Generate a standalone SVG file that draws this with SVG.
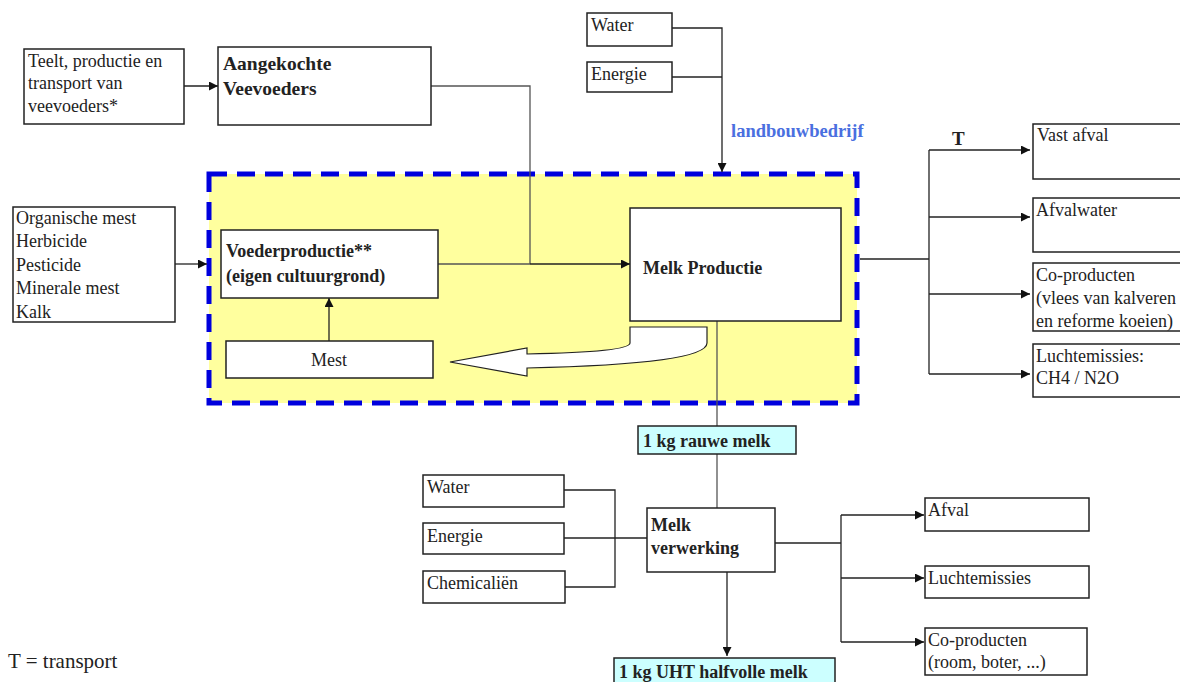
<svg xmlns="http://www.w3.org/2000/svg" width="1180" height="682" viewBox="0 0 1180 682">
  <defs>
    <marker id="arr" viewBox="0 0 10 10" refX="10" refY="5" markerWidth="9" markerHeight="9" markerUnits="userSpaceOnUse" orient="auto">
      <path d="M0,0 L10,5 L0,10 z" fill="#111"/>
    </marker>
    <style>
      .box { fill: #fff; stroke: #222; stroke-width: 1.5; }
      .hl { fill: #ccffff; stroke: #222; stroke-width: 1.5; }
      .t { font-size: 18px; fill: #222; }
      .b { font-size: 18px; font-weight: bold; fill: #222; }
      .bl { font-size: 19.5px; }
      .ln { fill: none; stroke: #222; stroke-width: 1.3; }
      .gl { fill: none; stroke: #555; stroke-width: 1.3; }
    </style>
  </defs>
  <rect width="1180" height="682" fill="#fff"/>

  <g font-family="Liberation Serif, Times New Roman, serif">
  <!-- farm boundary -->
  <g id="farm">
    <rect x="209" y="174" width="648" height="229" fill="#ffff9e" stroke="#0000dd" stroke-width="5" stroke-dasharray="18 10"/>
    <text x="731" y="137" font-size="18.5" font-weight="bold" fill="#4a6fe0">landbouwbedrijf</text>
  </g>

  <!-- connectors -->
  <g id="connectors">
    <line class="ln" x1="184" y1="86" x2="218" y2="86" marker-end="url(#arr)"/>
    <polyline class="gl" points="431,86 530,86 530,264"/>
    <polyline class="ln" points="672,28 722,28 722,172" marker-end="url(#arr)"/>
    <line class="ln" x1="672" y1="77" x2="722" y2="77"/>
    <line class="ln" x1="175" y1="264" x2="207" y2="264" marker-end="url(#arr)"/>
    <line class="gl" x1="438" y1="264" x2="530" y2="264"/>
    <line class="ln" x1="530" y1="264" x2="630" y2="264" marker-end="url(#arr)"/>
    <line class="ln" x1="329" y1="341" x2="329" y2="298" marker-end="url(#arr)"/>
    <line class="gl" x1="717" y1="321" x2="717" y2="426"/>
    <line class="gl" x1="717" y1="454" x2="717" y2="508"/>

    <!-- farm outputs -->
    <polyline class="ln" points="860,259 929,259"/>
    <line class="ln" x1="929" y1="150" x2="929" y2="374"/>
    <line class="ln" x1="929" y1="150" x2="1030" y2="150" marker-end="url(#arr)"/>
    <line class="ln" x1="929" y1="217" x2="1030" y2="217" marker-end="url(#arr)"/>
    <line class="ln" x1="929" y1="294" x2="1030" y2="294" marker-end="url(#arr)"/>
    <line class="ln" x1="929" y1="374" x2="1030" y2="374" marker-end="url(#arr)"/>
    <text x="952" y="145" class="b" style="font-size:19px">T</text>

    <!-- processing inputs -->
    <polyline class="ln" points="564,490 615,490 615,587 565,587"/>
    <line class="ln" x1="564" y1="538" x2="647" y2="538"/>
    <line class="ln" x1="727" y1="572" x2="727" y2="656" marker-end="url(#arr)"/>

    <!-- processing outputs -->
    <line class="ln" x1="775" y1="543" x2="841" y2="543"/>
    <line class="ln" x1="841" y1="515" x2="841" y2="642"/>
    <line class="ln" x1="841" y1="515" x2="924" y2="515" marker-end="url(#arr)"/>
    <line class="ln" x1="841" y1="578" x2="924" y2="578" marker-end="url(#arr)"/>
    <line class="ln" x1="841" y1="642" x2="924" y2="642" marker-end="url(#arr)"/>

    <!-- manure return arrow -->
    <path d="M630,327 L707,327 L707,343 Q707,364 527,368 L527,376 L450,362 L527,348 L527,354 Q630,352 630,343 Z" fill="#fff" stroke="#222" stroke-width="1.2"/>
  </g>

  <g id="teelt">
    <rect class="box" x="24" y="49" width="160" height="75"/>
    <text class="t" x="28" y="67">Teelt, productie en</text>
    <text class="t" x="28" y="89">transport van</text>
    <text class="t" x="28" y="112">veevoeders*</text>
  </g>
  <g id="aangekochte">
    <rect class="box" x="218" y="47" width="213" height="78"/>
    <text class="b bl" x="223" y="70">Aangekochte</text>
    <text class="b bl" x="223" y="95">Veevoeders</text>
  </g>
  <g id="water1">
    <rect class="box" x="587" y="13" width="85" height="33"/>
    <text class="t" x="591" y="31">Water</text>
  </g>
  <g id="energie1">
    <rect class="box" x="587" y="62" width="85" height="30"/>
    <text class="t" x="591" y="80">Energie</text>
  </g>
  <g id="inputs">
    <rect class="box" x="13" y="207" width="162" height="115"/>
    <text class="t" x="16" y="224">Organische mest</text>
    <text class="t" x="16" y="247">Herbicide</text>
    <text class="t" x="16" y="271">Pesticide</text>
    <text class="t" x="16" y="294">Minerale mest</text>
    <text class="t" x="16" y="318">Kalk</text>
  </g>
  <g id="voeder">
    <rect class="box" x="221" y="230" width="217" height="68"/>
    <text class="b" x="226" y="257">Voederproductie**</text>
    <text class="b" x="226" y="282">(eigen cultuurgrond)</text>
  </g>
  <g id="mest">
    <rect class="box" x="226" y="341" width="207" height="37"/>
    <text class="t" x="329" y="366" text-anchor="middle">Mest</text>
  </g>
  <g id="melkproductie">
    <rect class="box" x="630" y="208" width="211" height="113"/>
    <text class="b" x="643" y="274">Melk Productie</text>
  </g>
  <g id="vastafval">
    <rect class="box" x="1033" y="124" width="160" height="55"/>
    <text class="t" x="1037" y="141">Vast afval</text>
  </g>
  <g id="afvalwater">
    <rect class="box" x="1033" y="198" width="160" height="54"/>
    <text class="t" x="1036" y="216">Afvalwater</text>
  </g>
  <g id="coproducten1">
    <rect class="box" x="1033" y="263" width="160" height="68"/>
    <text class="t" x="1036" y="281">Co-producten</text>
    <text class="t" x="1036" y="304">(vlees van kalveren</text>
    <text class="t" x="1036" y="327">en reforme koeien)</text>
  </g>
  <g id="luchtemissies1">
    <rect class="box" x="1033" y="344" width="160" height="53"/>
    <text class="t" x="1036" y="362">Luchtemissies:</text>
    <text class="t" x="1036" y="384">CH4 / N2O</text>
  </g>
  <g id="rauwemelk">
    <rect class="hl" x="638" y="426" width="158" height="28"/>
    <text class="b" x="643" y="447">1 kg rauwe melk</text>
  </g>
  <g id="water2">
    <rect class="box" x="423" y="475" width="141" height="32"/>
    <text class="t" x="427" y="493">Water</text>
  </g>
  <g id="energie2">
    <rect class="box" x="423" y="523" width="141" height="31"/>
    <text class="t" x="427" y="542">Energie</text>
  </g>
  <g id="chemicalien">
    <rect class="box" x="423" y="571" width="142" height="32"/>
    <text class="t" x="427" y="589">Chemicaliën</text>
  </g>
  <g id="melkverwerking">
    <rect class="box" x="647" y="508" width="128" height="64"/>
    <text class="b" x="651" y="531">Melk</text>
    <text class="b" x="651" y="554">verwerking</text>
  </g>
  <g id="afval">
    <rect class="box" x="925" y="498" width="164" height="33"/>
    <text class="t" x="928" y="516">Afval</text>
  </g>
  <g id="luchtemissies2">
    <rect class="box" x="925" y="566" width="164" height="32"/>
    <text class="t" x="928" y="584">Luchtemissies</text>
  </g>
  <g id="coproducten2">
    <rect class="box" x="925" y="628" width="162" height="47"/>
    <text class="t" x="928" y="646">Co-producten</text>
    <text class="t" x="928" y="668">(room, boter, ...)</text>
  </g>
  <g id="uht">
    <rect class="hl" x="614" y="658" width="221" height="34"/>
    <text class="b" x="619" y="678">1 kg UHT halfvolle melk</text>
  </g>
  <g id="legend">
    <text class="t" x="8" y="668" style="font-size:21px">T = transport</text>
  </g>
  </g>
</svg>
